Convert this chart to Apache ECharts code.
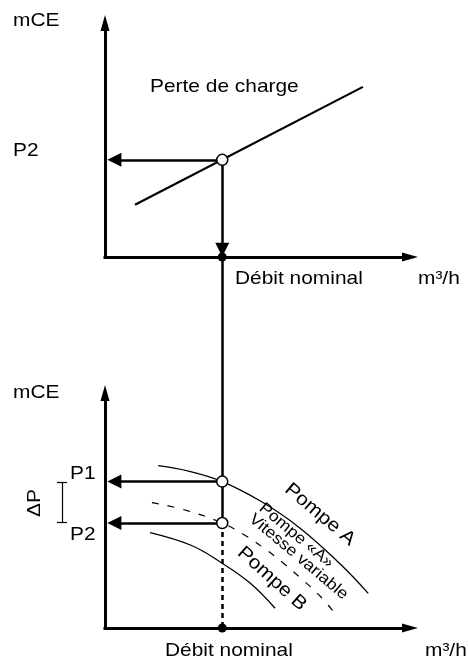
<!DOCTYPE html>
<html>
<head>
<meta charset="utf-8">
<script src="https://cdn.jsdelivr.net/npm/echarts@6/dist/echarts.min.js"></script>
<style>
  html, body { margin: 0; padding: 0; background: #fff; }
  #chart { width: 468px; height: 661px; }
</style>
</head>
<body>
<div id="chart"></div>
<script>
// débit nominal et pressions (unités arbitraires des axes)
const Q_NOM = 37.5;
const P2_HAUT = 40;
const P1 = 60;
const P2_BAS = 43;

// courbe du réseau (haut)
const perteCharge = [[9.6, 21.5], [82.5, 70]];

// courbes de pompes (bas)
const pompeA = [[17, 66.5], [27, 64.2], [37.5, 60], [50, 51.8], [62.5, 40.8], [75, 26.5], [84.2, 14.2]];
const pompeVariable = [[15, 51.4], [26, 48.2], [37.5, 43], [45, 37.8], [51, 32.6], [57, 26.6], [63, 20], [69, 12.8], [74.5, 4.5]];
const pompeB = [[14.4, 39.1], [27.7, 33.8], [37.5, 26.5], [46.4, 18.4], [54.4, 8.1]];

// bornes des axes
const X_MAX = 95;
const Y_MAX = 93;
const LIAISON = 152;  // hauteur de l'axe du haut vue depuis le graphe du bas
const FLECHE = 3;     // bout des flèches horizontales
const CROCHET_X = -13.75;

const FONT = 'Liberation Sans, Arial, sans-serif';

function txt(s, x, y, size, deg, align) {
  return {
    type: 'text', x: x, y: y,
    rotation: (deg || 0) * Math.PI / 180,
    scaleX: 1.1,
    style: {
      text: s, fontSize: size, fontFamily: FONT, fill: '#000',
      align: align || 'left', verticalAlign: 'middle'
    }
  };
}

function axe(gi, max) {
  return {
    type: 'value', gridIndex: gi, min: 0, max: max,
    splitLine: { show: false }, axisTick: { show: false }, axisLabel: { show: false },
    axisLine: {
      show: true, onZero: false, symbol: ['none', 'triangle'], symbolSize: [9, 16], symbolOffset: [0, 8],
      lineStyle: { color: '#000', width: 3, cap: 'square' }
    }
  };
}

function courbe(data, gi, width, type) {
  return {
    type: 'line', xAxisIndex: gi, yAxisIndex: gi, data: data,
    smooth: 0.4, showSymbol: false, silent: true, clip: false,
    lineStyle: { color: '#000', width: width, type: type || 'solid' }
  };
}

function segments(list, gi, width, type, arrow) {
  return {
    type: 'lines', coordinateSystem: 'cartesian2d', xAxisIndex: gi, yAxisIndex: gi,
    clip: false, silent: true, z: 3,
    symbol: arrow ? ['none', 'triangle'] : ['none', 'none'], symbolSize: [0, 14],
    lineStyle: { color: '#000', width: width, type: type || 'solid', opacity: 1 },
    data: list.map(c => ({ coords: c }))
  };
}

function points(data, gi, size, fill) {
  return {
    type: 'scatter', xAxisIndex: gi, yAxisIndex: gi, silent: true, z: 5, clip: false,
    symbolSize: size,
    itemStyle: { color: fill, borderColor: '#000', borderWidth: fill === '#fff' ? 1.5 : 0, opacity: 1 },
    data: data
  };
}

const chart = echarts.init(document.getElementById('chart'));

const option = {
  backgroundColor: '#fff',
  animation: false,
  grid: [
    { left: 105, top: 31, width: 297, height: 226 },
    { left: 105, top: 401, width: 297, height: 227 }
  ],
  xAxis: [axe(0, X_MAX), axe(1, X_MAX)],
  yAxis: [axe(0, Y_MAX), axe(1, Y_MAX)],
  series: [
    courbe(perteCharge, 0, 2.2),
    courbe(pompeA, 1, 1.3),
    courbe(pompeVariable, 1, 1.2, [7, 9]),
    courbe(pompeB, 1, 1.3),
    segments([
      [[Q_NOM, P2_HAUT], [FLECHE, P2_HAUT]],
      [[Q_NOM, P2_HAUT], [Q_NOM, FLECHE]]
    ], 0, 2.5, 'solid', true),
    segments([
      [[Q_NOM, P1], [FLECHE, P1]],
      [[Q_NOM, P2_BAS], [FLECHE, P2_BAS]]
    ], 1, 2.5, 'solid', true),
    segments([
      [[Q_NOM, LIAISON], [Q_NOM, P1]],
      [[Q_NOM, P1], [Q_NOM, P2_BAS]]
    ], 1, 2.5),
    segments([[[Q_NOM, P2_BAS], [Q_NOM, 0]]], 1, 2.5, [5, 4]),
    segments([
      [[CROCHET_X, P1 - 0.2], [CROCHET_X, P2_BAS + 0.4]],
      [[CROCHET_X - 1.6, P1 - 0.2], [CROCHET_X + 1.6, P1 - 0.2]],
      [[CROCHET_X - 1.6, P2_BAS + 0.4], [CROCHET_X + 1.6, P2_BAS + 0.4]]
    ], 1, 1.2),
    points([[Q_NOM, P2_HAUT]], 0, 11, '#fff'),
    points([[Q_NOM, P1], [Q_NOM, P2_BAS]], 1, 11, '#fff'),
    points([[Q_NOM, 0]], 0, 9, '#000'),
    points([[Q_NOM, 0]], 1, 9, '#000')
  ],
  graphic: [
    txt('mCE', 13, 21, 19),
    txt('P2', 13, 151, 19),
    txt('Perte de charge', 150, 87, 19),
    txt('Débit nominal', 235, 279, 19),
    txt('m³/h', 418, 279, 19),
    txt('mCE', 13, 393, 19),
    txt('P1', 70, 474, 19),
    txt('P2', 70, 535, 19),
    txt('ΔP', 35, 503, 19, 90, 'center'),
    txt('Débit nominal', 165, 651, 19),
    txt('m³/h', 425, 651, 19),
    txt('Pompe A', 287, 487, 19, -40),
    txt('Pompe «A»', 261, 506, 16, -40),
    txt('Vitesse variable', 251, 517, 16, -40),
    txt('Pompe B', 240, 550, 19, -42)
  ]
};

chart.setOption(option);
</script>
</body>
</html>
